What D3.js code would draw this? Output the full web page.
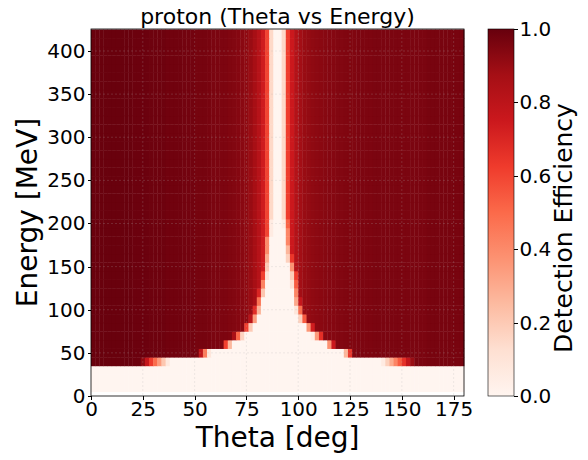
<!DOCTYPE html>
<html lang="en">
<head>
<meta charset="utf-8">
<title>proton (Theta vs Energy)</title>
<style>
body{
  margin: 0;
  background: #fff;
}
text{
  font-family: "DejaVu Sans", sans-serif;
  fill: #000;
}
.axis path, .axis line{
  stroke: #000;
  shape-rendering: crispEdges;
}
.grid line{
  stroke: #b0b0b0;
  stroke-opacity: 0.22;
  stroke-dasharray: 2,2;
}
</style>
</head>
<body>
<div id="chart"></div>
<script src="https://d3js.org/d3.v7.min.js"></script>
<script>

// theta bin centres (2 deg bins) and energy bin centres (10 MeV bins)
const thetaBins = d3.range(1, 180, 2);
const energyBins = d3.range(10, 430, 10);

// efficiency vs theta read at high energy (one value per theta bin)
const baseEff = [
  0.995, 0.995, 0.995, 0.995, 0.995, 0.995, 0.995, 0.995, 0.995, 0.995,
  0.99, 0.99, 0.99, 0.99, 0.985, 0.985, 0.985, 0.985, 0.98, 0.98,
  0.98, 0.98, 0.975, 0.975, 0.975, 0.97, 0.97, 0.97, 0.965, 0.96,
  0.96, 0.955, 0.955, 0.95, 0.945, 0.94, 0.93, 0.92, 0.9, 0.87,
  0.82, 0.74, 0.6, 0.3, 0.04, 0.04, 0.3, 0.62, 0.75, 0.83,
  0.88, 0.9, 0.91, 0.92, 0.925, 0.93, 0.935, 0.94, 0.94, 0.945,
  0.945, 0.95, 0.95, 0.95, 0.955, 0.955, 0.955, 0.955, 0.96, 0.96,
  0.96, 0.96, 0.96, 0.96, 0.96, 0.96, 0.96, 0.96, 0.96, 0.96,
  0.96, 0.965, 0.965, 0.965, 0.965, 0.965, 0.965, 0.965, 0.965, 0.965
];

// per energy row: where the dead zone starts/ends and how wide its edge fades are
const cutLo  = [0, 0, 0, 38, 57.5, 68.5, 74, 78, 80.6, 82.5, 83, 84, 85, 85.5, 86, 86.5, 87, 87, 87.5, 87.5,
                88, 88, 88, 88, 88, 88, 88, 88, 88, 88, 88, 88, 88, 88, 88, 88, 88, 88, 88, 88, 88, 88];
const fadeLo = [0, 0, 0, 14, 5.5, 5.5, 5.5, 4.5, 4, 4.5, 3.5, 3.5, 3.5, 3, 3, 3, 3, 3, 2.5, 2.5,
                2, 2, 2, 2, 2, 2, 2, 2, 2, 2, 2, 2, 2, 2, 2, 2, 2, 2, 2, 2, 2, 2];
const cutHi  = [180, 180, 180, 140, 121.6, 113, 106.7, 103, 100, 98.5, 97.5, 97, 96.4, 96, 95, 94, 93.5, 93, 93, 92.5,
                92, 92, 92, 92, 92, 92, 92, 92, 92, 92, 92, 92, 92, 92, 92, 92, 92, 92, 92, 92, 92, 92];
const fadeHi = [0, 0, 0, 16, 5, 5, 6, 5, 5, 4.5, 4, 4, 4, 4, 4, 3.5, 3.5, 3, 3, 3,
                2, 2, 2, 2, 2, 2, 2, 2, 2, 2, 2, 2, 2, 2, 2, 2, 2, 2, 2, 2, 2, 2];

const xTicks = [0, 25, 50, 75, 100, 125, 150, 175];
const yTicks = [0, 50, 100, 150, 200, 250, 300, 350, 400];
const cTicks = [0.0, 0.2, 0.4, 0.6, 0.8, 1.0];

// matplotlib "Reds" anchor colours
const redsColors = ['#fff5f0', '#fee0d2', '#fcbba1', '#fc9272', '#fb6a4a',
                    '#ef3b2c', '#cb181d', '#a50f15', '#67000d'];

const W = 588, H = 460;
const plot = { left: 91, right: 464, top: 29, bottom: 396 };
const cbar = { left: 488, right: 514 };

const svg = d3.select('#chart').append('svg')
  .attr('width', W)
  .attr('height', H);

const xS = d3.scaleLinear().domain([0, 180]).range([plot.left, plot.right]);
const yS = d3.scaleLinear().domain([0, 425.5]).range([plot.bottom, plot.top]);
const color = d3.scaleLinear()
  .domain(redsColors.map((c, i) => i / (redsColors.length - 1)))
  .range(redsColors)
  .interpolate(d3.interpolateRgb)
  .clamp(true);

function ramp(theta, r) {
  if (theta < cutLo[r]) {
    if (fadeLo[r] === 0) return 0;
    return Math.min(1, (cutLo[r] - theta) / fadeLo[r]);
  }
  if (theta <= cutHi[r]) return 0;
  if (fadeHi[r] === 0) return 0;
  return Math.min(1, (theta - cutHi[r]) / fadeHi[r]);
}

// build cells
const cells = [];
energyBins.forEach((e, r) => {
  thetaBins.forEach((t, c) => {
    cells.push({ theta: t, energy: e, value: baseEff[c] * ramp(t, r) });
  });
});

svg.append('g')
  .selectAll('rect')
  .data(cells)
  .join('rect')
  .attr('x', d => xS(d.theta - 1))
  .attr('y', d => yS(d.energy + 5))
  .attr('width', xS(2) - xS(0) + 0.4)
  .attr('height', yS(0) - yS(10) + 0.4)
  .attr('fill', d => color(d.value));

// grid
const grid = svg.append('g').attr('class', 'grid');
grid.selectAll('.gx')
  .data(xTicks.slice(1))
  .join('line')
  .attr('x1', d => xS(d)).attr('x2', d => xS(d))
  .attr('y1', plot.top).attr('y2', plot.bottom);
grid.selectAll('.gy')
  .data(yTicks.slice(1))
  .join('line')
  .attr('y1', d => yS(d)).attr('y2', d => yS(d))
  .attr('x1', plot.left).attr('x2', plot.right);

// frame
svg.append('rect')
  .attr('x', plot.left).attr('y', plot.top)
  .attr('width', plot.right - plot.left)
  .attr('height', plot.bottom - plot.top)
  .attr('fill', 'none')
  .attr('stroke', '#000')
  .attr('stroke-width', 0.8);

// x axis
svg.append('g')
  .attr('class', 'axis')
  .attr('transform', 'translate(0,' + plot.bottom + ')')
  .call(d3.axisBottom(xS).tickValues(xTicks).tickSize(3.5).tickPadding(2))
  .call(g => g.select('.domain').remove())
  .selectAll('text')
  .style('font-size', '20px');

// y axis
svg.append('g')
  .attr('class', 'axis')
  .attr('transform', 'translate(' + plot.left + ',0)')
  .call(d3.axisLeft(yS).tickValues(yTicks).tickSize(3.5).tickPadding(2))
  .call(g => g.select('.domain').remove())
  .selectAll('text')
  .style('font-size', '20px');

// title and labels
svg.append('text')
  .attr('x', (plot.left + plot.right) / 2)
  .attr('y', 24)
  .attr('text-anchor', 'middle')
  .style('font-size', '22px')
  .text('proton (Theta vs Energy)');

svg.append('text')
  .attr('x', (plot.left + plot.right) / 2)
  .attr('y', 447)
  .attr('text-anchor', 'middle')
  .style('font-size', '28px')
  .text('Theta [deg]');

svg.append('text')
  .attr('transform', 'translate(37,' + ((plot.top + plot.bottom) / 2) + ') rotate(-90)')
  .attr('text-anchor', 'middle')
  .style('font-size', '28px')
  .text('Energy [MeV]');

// colorbar
const defs = svg.append('defs');
const grad = defs.append('linearGradient')
  .attr('id', 'cgrad')
  .attr('x1', 0).attr('y1', 1).attr('x2', 0).attr('y2', 0);
grad.selectAll('stop')
  .data(d3.range(0, 1.0001, 0.125))
  .join('stop')
  .attr('offset', d => d)
  .attr('stop-color', d => color(d));

svg.append('rect')
  .attr('x', cbar.left).attr('y', plot.top)
  .attr('width', cbar.right - cbar.left)
  .attr('height', plot.bottom - plot.top)
  .attr('fill', 'url(#cgrad)')
  .attr('stroke', '#000')
  .attr('stroke-width', 0.6);

const cS = d3.scaleLinear().domain([0, 1]).range([plot.bottom, plot.top]);
svg.append('g')
  .attr('class', 'axis')
  .attr('transform', 'translate(' + cbar.right + ',0)')
  .call(d3.axisRight(cS).tickValues(cTicks).tickFormat(d3.format('.1f')).tickSize(3.5).tickPadding(2))
  .call(g => g.select('.domain').remove())
  .selectAll('text')
  .style('font-size', '20px');

svg.append('text')
  .attr('transform', 'translate(572,228) rotate(-90)')
  .attr('text-anchor', 'middle')
  .style('font-size', '25px')
  .text('Detection Efficiency');

</script>
</body>
</html>
